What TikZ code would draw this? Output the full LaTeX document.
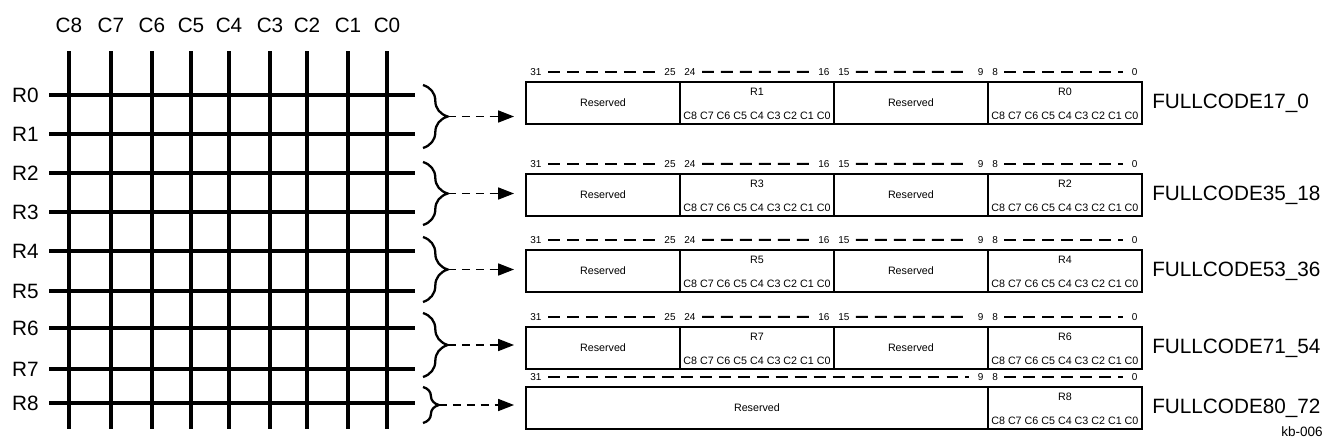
\documentclass[tikz,border=0pt]{standalone}
\usepackage{fontspec}
\setmainfont{Liberation Sans}
\usetikzlibrary{arrows.meta,positioning,decorations.pathreplacing}
\tikzset{
  wire/.style={line width=2.3pt},
  biglbl/.style={inner sep=0pt,font=\fontsize{11.8}{13}\selectfont},
  field/.style={draw,line width=1.5pt,minimum width=3.08cm,minimum height=0.84cm,
    inner sep=0pt,outer sep=0pt,anchor=north west,font=\fontsize{6.1}{7}\selectfont},
  small/.style={inner sep=0pt,font=\fontsize{6.1}{7}\selectfont},
  bitno/.style={inner sep=0pt,font=\fontsize{5.7}{6}\selectfont},
  bitspan/.style={line width=1.1pt,dash pattern=on 6.8pt off 4pt,
    shorten <=3.5pt,shorten >=5pt},
  grp/.style={decorate,line width=1.3pt,decoration={brace,amplitude=14pt}},
  feed/.style={line width=0.8pt,dash pattern=on 4.5pt off 3.4pt,
    -{Triangle[length=9pt,width=6.8pt]},shorten >=6.8pt}
}
\begin{document}
\begin{tikzpicture}[x=0.02cm,y=-0.02cm]
\useasboundingbox (0,0) rectangle (1325,444);
% key matrix
\foreach \x/\c in {69/8,111/7,152/6,191/5,229/4,270/3,307/2,348/1,387/0}{
  \node[biglbl] (col\c) at (\x,25) {C\c};
  \draw[wire] (\x,51) -- (\x,429);
}
\foreach \y/\r in {95/0,134/1,173/2,212/3,251/4,291/5,328/6,369/7,403/8}{
  \node[biglbl,anchor=east] (row\r) at (39,\y) {R\r};
  \draw[wire] (49,\y) -- (415,\y);
}
% braces
\foreach \t/\b/\k in {85/148/1,162/225/2,237/302/3,313/377/4}{
  \draw[grp] (423,\t) -- (423,\b);
  \coordinate (tip\k) at (448,{(\t+\b)/2});
}
\draw[grp,decoration={brace,amplitude=9pt}] (423,387) -- (423,423);
\coordinate (tip5) at (439,405);
% registers
\foreach \k/\top/\hi/\lo/\nm in {1/82/R1/R0/17\_0,2/174/R3/R2/35\_18,3/250/R5/R4/53\_36,4/327/R7/R6/71\_54}{
  \node[field] (reg\k-a) at (526,\top) {Reserved};
  \node[field] (reg\k-b) at (reg\k-a.north east) {};
  \node[field] (reg\k-c) at (reg\k-b.north east) {Reserved};
  \node[field] (reg\k-d) at (reg\k-c.north east) {};
  \node[small,below=3.5pt of reg\k-b.north] (hn\k) {\hi};
  \node[small,above=2.3pt of reg\k-b.south] (hc\k) {C8 C7 C6 C5 C4 C3 C2 C1 C0};
  \node[small,below=3.5pt of reg\k-d.north] (ln\k) {\lo};
  \node[small,above=2.3pt of reg\k-d.south] (lc\k) {C8 C7 C6 C5 C4 C3 C2 C1 C0};
  \foreach \f/\m/\n in {a/31/25,b/24/16,c/15/9,d/8/0}{
    \node[bitno,above right=3.6pt and 2.3pt of reg\k-\f.north west] (hb\k\f) {\m};
    \node[bitno,above left=3.6pt and 2.3pt of reg\k-\f.north east] (lb\k\f) {\n};
    \draw[bitspan] (hb\k\f) -- (lb\k\f);
  }
  \node[biglbl,right=5.7pt of reg\k-d.east] (nm\k) {FULLCODE\nm};
  \draw[feed] (tip\k) -- (tip\k -| reg\k-a.west);
}
\node[field,minimum width=9.24cm] (reg5-a) at (526,387) {Reserved};
\node[field] (reg5-d) at (reg5-a.north east) {};
\node[small,below=3.5pt of reg5-d.north] (ln5) {R8};
\node[small,above=2.3pt of reg5-d.south] (lc5) {C8 C7 C6 C5 C4 C3 C2 C1 C0};
\foreach \f/\m/\n in {a/31/9,d/8/0}{
  \node[bitno,above right=3.6pt and 2.3pt of reg5-\f.north west] (hb5\f) {\m};
  \node[bitno,above left=3.6pt and 2.3pt of reg5-\f.north east] (lb5\f) {\n};
  \draw[bitspan] (hb5\f) -- (lb5\f);
}
\node[biglbl,right=5.7pt of reg5-d.east] (nm5) {FULLCODE80\_72};
\draw[feed] (tip5) -- (tip5 -| reg5-a.west);
\node[inner sep=0pt,font=\fontsize{7.7}{8}\selectfont,anchor=east] (tag) at (1323,432) {kb-006};
\end{tikzpicture}
\end{document}
